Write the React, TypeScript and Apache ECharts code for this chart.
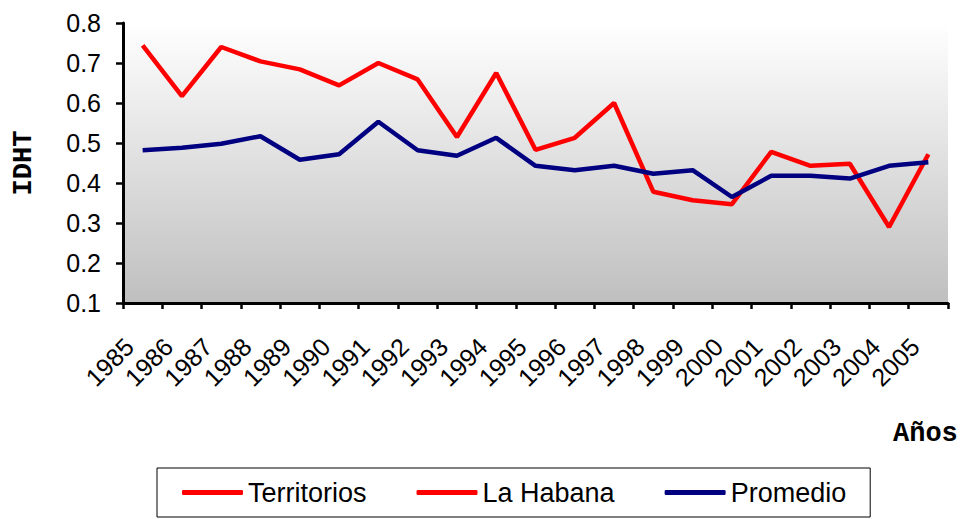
import React, { useEffect, useRef } from "react";
import * as echarts from "echarts";

const years = ["1985","1986","1987","1988","1989","1990","1991","1992","1993","1994","1995","1996","1997","1998","1999","2000","2001","2002","2003","2004","2005"];
const territorios: number[] = [];
const laHabana = [0.744,0.617,0.74,0.704,0.684,0.644,0.70,0.659,0.515,0.675,0.483,0.513,0.60,0.378,0.357,0.347,0.478,0.443,0.448,0.29,0.472];
const promedio = [0.482,0.488,0.498,0.517,0.458,0.472,0.553,0.482,0.468,0.513,0.443,0.432,0.443,0.423,0.432,0.365,0.418,0.418,0.411,0.443,0.452];
const yTicks = { min: 0.1, max: 0.8, interval: 0.1 };

export default function App() {
  const ref = useRef<HTMLDivElement>(null);
  useEffect(() => {
    if (!ref.current) return;
    const chart = echarts.init(ref.current, null, { renderer: "svg" });
    const sans = "Arial, 'Liberation Sans', sans-serif";
    const mono = "'Courier New', 'Liberation Mono', monospace";
    chart.setOption({
      animation: false,
      backgroundColor: "#ffffff",
      grid: {
        left: 123, right: 17, top: 23, bottom: 216,
        outerBoundsMode: "none",
        containLabel: false,
        show: true,
        borderWidth: 0,
        backgroundColor: new echarts.graphic.LinearGradient(0, 0, 0, 1, [
          { offset: 0, color: "#ffffff" },
          { offset: 1, color: "#bfbfbf" },
        ]),
      },
      legend: {
        left: 157, top: 468,
        padding: [11, 24, 11, 25],
        borderColor: "#000000", borderWidth: 1,
        itemWidth: 61, itemHeight: 5, itemGap: 50,
        icon: "roundRect",
        textStyle: { fontFamily: sans, fontSize: 27, color: "#000" },
        data: ["Territorios", "La Habana", "Promedio"],
      },
      xAxis: {
        type: "category",
        data: years,
        boundaryGap: true,
        axisLine: { lineStyle: { color: "#000", width: 3 } },
        axisTick: { show: true, length: 6, lineStyle: { color: "#000", width: 2.5 } },
        axisLabel: {
          rotate: 45, interval: 0, margin: 26, color: "#000",
          fontFamily: sans, fontSize: 25, padding: [0, 19, 0, 0],
        },
        splitLine: { show: false },
      },
      yAxis: {
        type: "value",
        min: yTicks.min, max: yTicks.max, interval: yTicks.interval,
        name: "IDHT", nameLocation: "middle", nameRotate: 90, nameGap: 86,
        nameTextStyle: { fontFamily: mono, fontWeight: "bold", fontSize: 27, color: "#000" },
        axisLine: { show: true, lineStyle: { color: "#000", width: 3 } },
        axisTick: { show: true, length: 7, lineStyle: { color: "#000", width: 2.5 } },
        axisLabel: {
          margin: 22, color: "#000", fontFamily: sans, fontSize: 25,
          formatter: (v: number) => v.toFixed(1),
        },
        splitLine: { show: false },
      },
      graphic: [
        {
          type: "text", left: 893, top: 420,
          style: { text: "Años", fontFamily: mono, fontWeight: "bold", fontSize: 27, fill: "#000" },
        },
      ],
      series: [
        { name: "Territorios", type: "line", data: territorios, showSymbol: false, color: "#ff0000", lineStyle: { width: 4.5, color: "#ff0000" } },
        { name: "La Habana", type: "line", data: laHabana, showSymbol: false, color: "#ff0000", lineStyle: { width: 4.5, color: "#ff0000" } },
        { name: "Promedio", type: "line", data: promedio, showSymbol: false, color: "#000080", lineStyle: { width: 4.5, color: "#000080" } },
      ],
    });
    return () => chart.dispose();
  }, []);
  return <div ref={ref} style={{ width: 965, height: 519, position: "absolute", left: 0, top: 0 }} />;
}
